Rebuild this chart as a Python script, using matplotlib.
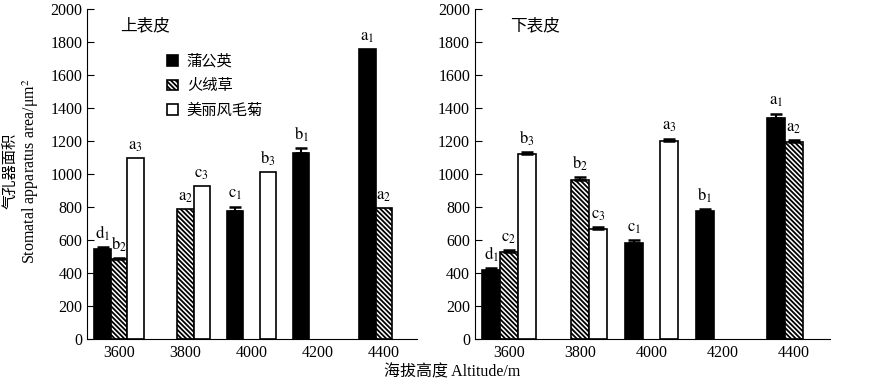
import matplotlib
matplotlib.use('Agg')
import matplotlib.pyplot as plt
import numpy as np
from matplotlib.patches import Patch

plt.rcParams['font.family'] = ['Liberation Serif', 'Noto Sans CJK SC']
plt.rcParams['mathtext.fontset'] = 'stix'
plt.rcParams['hatch.linewidth'] = 1.3

altitudes = ['3600', '3800', '4000', '4200', '4400']
species = ['蒲公英', '火绒草', '美丽风毛菊']

# upper epidermis (上表皮); nan = no data
upper_vals = [
    [545, np.nan, 775, 1130, 1760],   # 蒲公英
    [483, 785, np.nan, np.nan, 795],  # 火绒草
    [1095, 925, 1012, np.nan, np.nan],  # 美丽风毛菊
]
upper_err = [
    [14, 0, 28, 30, 0],
    [8, 0, 0, 0, 0],
    [0, 0, 0, 0, 0],
]
upper_labels = [
    ['d_1', None, 'c_1', 'b_1', 'a_1'],
    ['b_2', 'a_2', None, None, 'a_2'],
    ['a_3', 'c_3', 'b_3', None, None],
]

# lower epidermis (下表皮)
lower_vals = [
    [421, np.nan, 580, 773, 1341],
    [529, 962, np.nan, np.nan, 1192],
    [1119, 665, 1198, np.nan, np.nan],
]
lower_err = [
    [10, 0, 18, 12, 26],
    [10, 19, 0, 0, 14],
    [16, 12, 17, 0, 0],
]
lower_labels = [
    ['d_1', None, 'c_1', 'b_1', 'a_1'],
    ['c_2', 'b_2', None, None, 'a_2'],
    ['b_3', 'c_3', 'a_3', None, None],
]

styles = [
    dict(facecolor='black', edgecolor='black'),
    dict(facecolor='white', edgecolor='black', hatch='\\' * 7),
    dict(facecolor='white', edgecolor='black'),
]


def draw_panel(ax, vals, errs, labels, title):
    x = np.arange(len(altitudes))
    w = 0.25
    for i in range(3):
        pos = x + (i - 1) * w
        v = np.array(vals[i], dtype=float)
        e = np.array(errs[i], dtype=float)
        ax.bar(pos, v, width=w, linewidth=1.2, **styles[i])
        has_err = (e > 0) & ~np.isnan(v)
        ax.errorbar(pos[has_err], v[has_err],
                    yerr=[np.zeros(has_err.sum()), e[has_err]],
                    fmt='none', ecolor='black', elinewidth=1.5,
                    capsize=4.5, capthick=1.8)
        for j in range(len(altitudes)):
            if labels[i][j] is None or np.isnan(v[j]):
                continue
            ax.text(pos[j], v[j] + e[j] + 25, '$\\mathrm{%s}$' % labels[i][j],
                    ha='center', va='bottom', fontsize=12)
    ax.set_xlim(-0.48, 4.5)
    ax.set_ylim(0, 2000)
    ax.set_yticks(range(0, 2001, 200))
    ax.set_xticks(x)
    ax.set_xticklabels(altitudes)
    ax.tick_params(axis='x', length=0, labelsize=11.5, pad=4)
    ax.tick_params(axis='y', direction='in', length=5, labelsize=11.5)
    for s in ('top', 'right'):
        ax.spines[s].set_visible(False)
    ax.text(0.1, 0.95, title, transform=ax.transAxes, fontsize=12,
            family=['Noto Sans CJK SC'], va='center')


fig = plt.figure(figsize=(8.91, 3.8), dpi=100)
ax1 = fig.add_axes([0.098, 0.108, 0.370, 0.868])
ax2 = fig.add_axes([0.533, 0.108, 0.398, 0.868])

draw_panel(ax1, upper_vals, upper_err, upper_labels, '上表皮')
draw_panel(ax2, lower_vals, lower_err, lower_labels, '下表皮')

handles = [Patch(linewidth=1.2, **s) for s in styles]
ax1.legend(handles, species, loc='upper left', bbox_to_anchor=(0.2, 0.91),
           frameon=False, handlelength=0.7, handleheight=0.7,
           handletextpad=0.6, labelspacing=0.5,
           prop={'family': 'Noto Sans CJK SC', 'size': 11})

fig.text(0.012, 0.55, '气孔器面积', rotation=90, ha='center', va='center',
         fontsize=11, family=['Noto Sans CJK SC'])
fig.text(0.034, 0.55, 'Stomatal apparatus area/μm$^2$', rotation=90,
         ha='center', va='center', fontsize=11.5)
fig.text(0.508, 0.02, '海拔高度 Altitude/m', ha='center', va='center',
         fontsize=11.5)

fig.savefig('out.png', dpi=100)
